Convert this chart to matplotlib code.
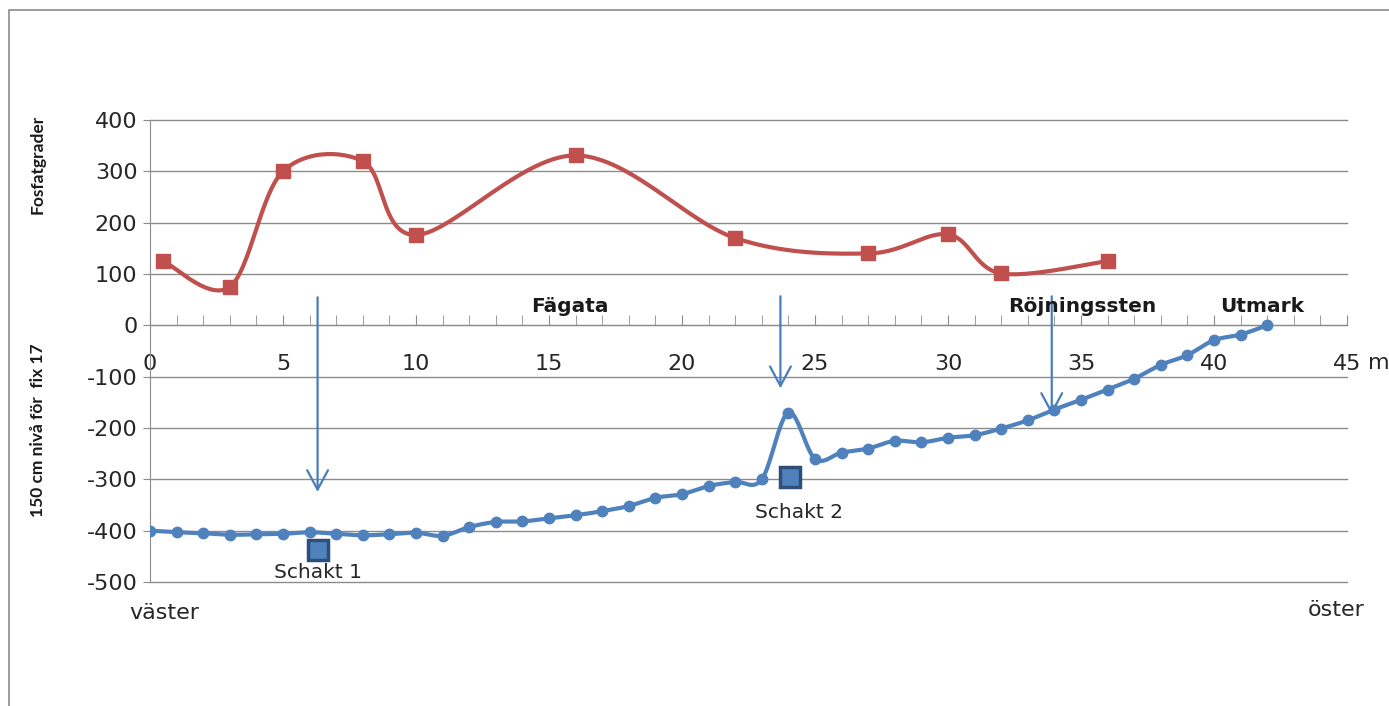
import numpy as np
import matplotlib.pyplot as plt
from matplotlib.patches import Rectangle

plt.rcParams['font.family'] = ['DejaVu Sans']
plt.rcParams['axes.unicode_minus'] = False

# Levels (blue), one point per metre
niva_x = list(range(0, 43))
niva_y = [-400, -403, -405, -408, -407, -406, -403, -406, -409, -407, -404, -410,
          -393, -383, -382, -376, -370, -362, -352, -336, -329, -313, -305, -300,
          -170, -260, -248, -240, -225, -228, -219, -214, -201, -185, -164, -145,
          -125, -104, -77, -58, -29, -18, 0]

# Phosphate degrees (red)
fosfat_x = [0.5, 3, 5, 8, 10, 16, 22, 27, 30, 32, 36]
fosfat_y = [125, 75, 300, 320, 176, 331, 170, 140, 177, 101, 125]

# Trenches
schakt_x = [6.3, 24.05]
schakt_y = [-438, -295]
schakt_lbl = ['Schakt 1', 'Schakt 2']
schakt_lbl_x = [6.3, 24.4]
schakt_lbl_y = [-482, -365]

# Arrows (x, top, bottom)
pil_x = [6.3, 23.7, 33.9]
pil_top = [60, 62, 62]
pil_bot = [-330, -128, -180]

xticks = [0, 5, 10, 15, 20, 25, 30, 35, 40, 45]
yticks = list(range(-500, 401, 100))

BLUE = '#4F81BD'
RED = '#C0504D'
GRID = '#8C8C8C'


def smooth(x, y, n=30):
    # Excel-like smoothed line (Catmull-Rom Bezier)
    p = np.column_stack([x, y]).astype(float)
    pts = []
    for i in range(len(p) - 1):
        p0 = p[i - 1] if i > 0 else p[i]
        p3 = p[i + 2] if i + 2 < len(p) else p[i + 1]
        c1 = p[i] + (p[i + 1] - p0) / 6
        c2 = p[i + 1] - (p3 - p[i]) / 6
        t = np.linspace(0, 1, n)[:, None]
        seg = ((1 - t) ** 3 * p[i] + 3 * (1 - t) ** 2 * t * c1
               + 3 * (1 - t) * t ** 2 * c2 + t ** 3 * p[i + 1])
        pts.append(seg if i == 0 else seg[1:])
    s = np.vstack(pts)
    return s[:, 0], s[:, 1]


fig = plt.figure(figsize=(13.89, 7.06), dpi=100)
fig.patches.append(Rectangle((9 / 1389, -0.1), 1.2, (706 - 10) / 706 + 0.1,
                             transform=fig.transFigure, fill=False,
                             edgecolor=GRID, linewidth=1.2))

ax = fig.add_axes([150 / 1389, 1 - 582 / 706, (1347 - 150) / 1389, (582 - 120) / 706])
ax.set_xlim(0, 45)
ax.set_ylim(-500, 400)
ax.set_yticks(yticks)
ax.set_xticks(xticks)
ax.set_xticks(range(0, 46), minor=True)
for y in yticks:
    ax.axhline(y, color=GRID, linewidth=1, zorder=0.5, clip_on=False)

for s in ['top', 'right']:
    ax.spines[s].set_visible(False)
ax.spines['left'].set_color(GRID)
ax.spines['bottom'].set_position(('data', 0))
ax.spines['bottom'].set_color(GRID)
ax.tick_params(axis='y', length=5, color=GRID, labelsize=16, labelcolor='#262626',
               pad=4)
ax.tick_params(axis='x', which='both', direction='in', length=7, color=GRID,
               labelsize=16, labelcolor='#262626', pad=21)

# curves
sx, sy = smooth(fosfat_x, fosfat_y)
ax.plot(sx, sy, color=RED, lw=3, zorder=3)
ax.plot(fosfat_x, fosfat_y, 's', color=RED, ms=10, zorder=4)

bx, by = smooth(niva_x, niva_y)
ax.plot(bx, by, color=BLUE, lw=3, zorder=3)
ax.plot(niva_x, niva_y, 'o', color=BLUE, ms=7.5, zorder=4)

ax.plot(schakt_x, schakt_y, 's', color=BLUE, mec='#2E4F7A', mew=2.5, ms=14, zorder=5)
for x, y, t in zip(schakt_lbl_x, schakt_lbl_y, schakt_lbl):
    ax.text(x, y, t, ha='center', va='center', fontsize=14.5, color='#262626')

for x, t, b in zip(pil_x, pil_top, pil_bot):
    ax.annotate('', xy=(x, b), xytext=(x, t),
                arrowprops=dict(arrowstyle='->,head_length=1.4,head_width=0.75',
                                color='#4A7EBB', lw=1.6))

for x, t in [(15.8, 'Fägata'), (35.05, 'Röjningssten'), (41.8, 'Utmark')]:
    ax.text(x, 37, t, ha='center', va='center', fontsize=14.5, fontweight='bold',
            color='#1A1A1A')

ax.text(46.2, -73, 'm', ha='center', va='center', fontsize=16, color='#262626',
        clip_on=False)
ax.text(0.55, -560, 'väster', ha='center', va='center', fontsize=16, color='#262626',
        clip_on=False)
ax.text(44.6, -555, 'öster', ha='center', va='center', fontsize=16, color='#262626',
        clip_on=False)

fig.text(38 / 1389, 1 - 164 / 706, 'Fosfatgrader', rotation=90, ha='center',
         va='center', fontsize=12.5, fontweight='bold', color='#1A1A1A',
         family=['Lato', 'DejaVu Sans'])
fig.text(38 / 1389, 1 - 430 / 706, '150 cm nivå för  fix 17', rotation=90, ha='center',
         va='center', fontsize=12.5, fontweight='bold', color='#1A1A1A',
         family=['Lato', 'DejaVu Sans'])

fig.savefig('out.png', dpi=100)
